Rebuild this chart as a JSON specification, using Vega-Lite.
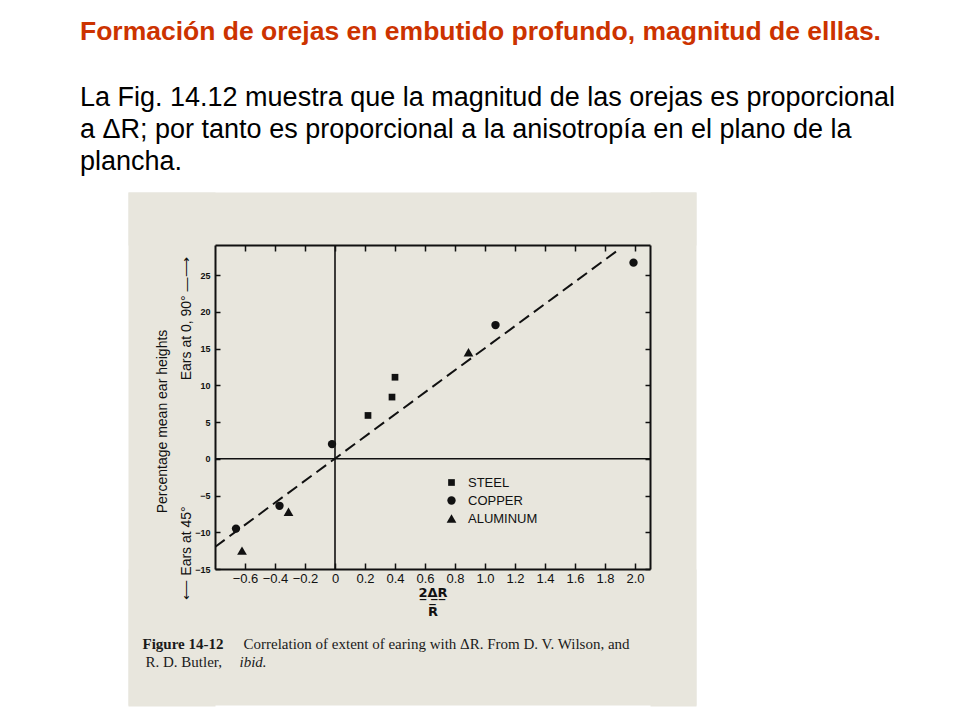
{
  "$schema": "https://vega.github.io/schema/vega-lite/v6.json",
  "width": 435,
  "height": 324,
  "autosize": {"type": "none"},
  "padding": {"left": 215, "top": 245, "right": 310, "bottom": 151},
  "background": "white",
  "title": {
    "text": "Formación de orejas en embutido profundo, magnitud de elllas.",
    "subtitle": [
      "La Fig. 14.12 muestra que la magnitud de las orejas es proporcional",
      "a ΔR; por tanto es proporcional a la anisotropía en el plano de la",
      "plancha."
    ],
    "anchor": "start",
    "frame": "group",
    "dx": -135,
    "font": "Liberation Sans",
    "fontSize": 26.5,
    "fontWeight": "bold",
    "color": "#CC3300",
    "subtitleFont": "Liberation Sans",
    "subtitleFontSize": 27,
    "subtitleColor": "#000000",
    "subtitleLineHeight": 32,
    "subtitlePadding": 40,
    "offset": -267
  },
  "datasets": {
    "points": [
      {"material": "STEEL", "r": 0.22, "ear": 5.9},
      {"material": "STEEL", "r": 0.38, "ear": 8.4},
      {"material": "STEEL", "r": 0.40, "ear": 11.1},
      {"material": "COPPER", "r": -0.66, "ear": -9.5},
      {"material": "COPPER", "r": -0.37, "ear": -6.4},
      {"material": "COPPER", "r": -0.02, "ear": 2.0},
      {"material": "COPPER", "r": 1.07, "ear": 18.2},
      {"material": "COPPER", "r": 1.99, "ear": 26.7},
      {"material": "ALUMINUM", "r": -0.62, "ear": -12.5},
      {"material": "ALUMINUM", "r": -0.31, "ear": -7.2},
      {"material": "ALUMINUM", "r": 0.89, "ear": 14.5}
    ],
    "fit": [
      {"r": -0.8, "ear": -12.0},
      {"r": 1.88, "ear": 28.3}
    ],
    "ref": [{"kind": "reference"}]
  },
  "resolve": {"axis": {"x": "independent", "y": "independent"}},
  "layer": [
    {
      "data": {"name": "ref"},
      "mark": {"type": "rule", "color": "#111111", "strokeWidth": 1.6},
      "encoding": {
        "y": {
          "datum": 0,
          "type": "quantitative",
          "scale": {"domain": [-15, 29.1], "nice": false, "zero": false},
          "axis": {
            "orient": "left", "zindex": 1, "values": [1.4], "tickSize": 87, "tickWidth": 514,
            "tickColor": "#E8E6DD", "domain": false, "labels": false, "grid": false,
            "title": "R. D. Butler,",
            "titleFont": "Liberation Serif", "titleFontSize": 15, "titleFontWeight": "normal", "titleColor": "#1a1a1a",
            "titleAngle": 0, "titleAlign": "left", "titleBaseline": "alphabetic",
            "titleX": -70, "titleY": 421
          }
        },
        "x": {
          "datum": -0.8,
          "type": "quantitative",
          "scale": {"domain": [-0.8, 2.1], "nice": false, "zero": false},
          "axis": {
            "orient": "top", "zindex": 0, "values": [0.5133], "tickSize": 53, "tickWidth": 568,
            "tickColor": "#E8E6DD", "domain": false, "labels": false, "grid": false, "title": null
          }
        },
        "x2": {"datum": 2.1}
      }
    },
    {
      "data": {"name": "ref"},
      "mark": {"type": "rule", "color": "#111111", "strokeWidth": 1.6},
      "encoding": {
        "x": {
          "datum": 0,
          "type": "quantitative",
          "axis": {
            "orient": "bottom", "zindex": 1, "values": [0.5133], "tickSize": 136, "tickWidth": 568,
            "tickColor": "#E8E6DD", "domain": false, "labels": false, "grid": false,
            "title": "Correlation of extent of earing with ΔR. From D. V. Wilson, and",
            "titleFont": "Liberation Serif", "titleFontSize": 15, "titleFontWeight": "normal", "titleColor": "#1a1a1a",
            "titleAngle": 0, "titleAlign": "left", "titleBaseline": "alphabetic",
            "titleX": 28, "titleY": 79
          }
        },
        "y": {
          "datum": -15,
          "type": "quantitative",
          "axis": {
            "orient": "right", "zindex": 0, "values": [1.4], "tickSize": 46, "tickWidth": 514,
            "tickColor": "#E8E6DD", "domain": false, "labels": false, "grid": false, "title": null
          }
        },
        "y2": {"datum": 29.1}
      }
    },
    {
      "data": {"name": "fit"},
      "mark": {"type": "line", "color": "#111111", "strokeWidth": 2, "strokeDash": [12, 6]},
      "encoding": {
        "x": {
          "field": "r", "type": "quantitative",
          "axis": {
            "orient": "top", "zindex": 2, "values": [-0.6, -0.4, -0.2, 0, 0.2, 0.4, 0.6, 0.8, 1.0, 1.2, 1.4, 1.6, 1.8, 2.0],
            "tickSize": -6, "tickWidth": 1.5, "tickColor": "#111111", "domain": true, "domainColor": "#111111", "domainWidth": 2,
            "labels": false, "grid": false,
            "title": "Figure 14-12",
            "titleFont": "Liberation Serif", "titleFontSize": 15, "titleFontWeight": "bold", "titleColor": "#1a1a1a",
            "titleAngle": 0, "titleAlign": "left", "titleBaseline": "alphabetic",
            "titleX": -73, "titleY": 403
          }
        },
        "y": {
          "field": "ear", "type": "quantitative",
          "axis": {
            "orient": "right", "zindex": 2, "values": [-15, -10, -5, 0, 5, 10, 15, 20, 25],
            "tickSize": -5, "tickWidth": 1.5, "tickColor": "#111111", "domain": true, "domainColor": "#111111", "domainWidth": 2,
            "labels": false, "grid": false,
            "title": "ibid.",
            "titleFont": "Liberation Serif", "titleFontSize": 15, "titleFontWeight": "normal", "titleFontStyle": "italic", "titleColor": "#1a1a1a",
            "titleAngle": 0, "titleAlign": "left", "titleBaseline": "alphabetic",
            "titleX": -411, "titleY": 421
          }
        }
      }
    },
    {
      "data": {"name": "points"},
      "mark": {"type": "point", "filled": true, "color": "#111111", "opacity": 1},
      "encoding": {
        "x": {
          "field": "r", "type": "quantitative",
          "axis": {
            "orient": "bottom", "zindex": 2, "values": [-0.6, -0.4, -0.2, 0, 0.2, 0.4, 0.6, 0.8, 1.0, 1.2, 1.4, 1.6, 1.8, 2.0],
            "labelExpr": "datum.value == 0 ? '0' : format(datum.value, '.1f')",
            "tickSize": -6, "tickWidth": 1.5, "tickColor": "#111111", "domain": true, "domainColor": "#111111", "domainWidth": 2,
            "labelFont": "Liberation Sans", "labelFontSize": 13, "labelColor": "#111111", "labelPadding": 9,
            "labelFlush": false, "labelOverlap": false, "grid": false,
            "title": ["2\u0332Δ\u0332R\u0332", "R\u0305"],
            "titleFont": "DejaVu Sans", "titleFontSize": 13, "titleFontWeight": "bold", "titleColor": "#111111",
            "titleBaseline": "top", "titleLineHeight": 19, "titleY": 17
          }
        },
        "y": {
          "field": "ear", "type": "quantitative",
          "axis": {
            "orient": "left", "zindex": 2, "values": [-15, -10, -5, 0, 5, 10, 15, 20, 25],
            "tickSize": -5, "tickWidth": 1.5, "tickColor": "#111111", "domain": true, "domainColor": "#111111", "domainWidth": 2,
            "labelFont": "Liberation Sans", "labelFontSize": 9, "labelFontWeight": "bold", "labelColor": "#111111", "labelPadding": 10,
            "labelFlush": false, "labelOverlap": false, "grid": false,
            "title": ["Percentage mean ear heights", "⟵ Ears at 45°\u2003\u2003\u2003\u2003\u2003\u2003\u2003\u2003\u2003Ears at 0, 90° —⟶\u2003\u200b"],
            "titleFont": "Liberation Sans", "titleFontSize": 14, "titleFontWeight": "normal", "titleColor": "#111111",
            "titleAngle": -90, "titleAlign": "center", "titleBaseline": "bottom", "titleLineHeight": 24,
            "titleX": -46, "titleY": 176
          }
        },
        "shape": {
          "field": "material", "type": "nominal",
          "scale": {"domain": ["STEEL", "COPPER", "ALUMINUM"], "range": ["square", "circle", "triangle-up"]},
          "legend": {
            "orient": "none", "legendX": 230, "legendY": 231, "title": null,
            "labelFont": "Liberation Sans", "labelFontSize": 13, "labelColor": "#111111",
            "labelOffset": 10, "rowPadding": 3
          }
        },
        "size": {
          "field": "material", "type": "nominal",
          "scale": {"domain": ["STEEL", "COPPER", "ALUMINUM"], "range": [45, 95, 45]}
        }
      }
    }
  ],
  "config": {
    "view": {"fill": "#E8E6DD", "stroke": null},
    "axis": {"grid": false}
  }
}
